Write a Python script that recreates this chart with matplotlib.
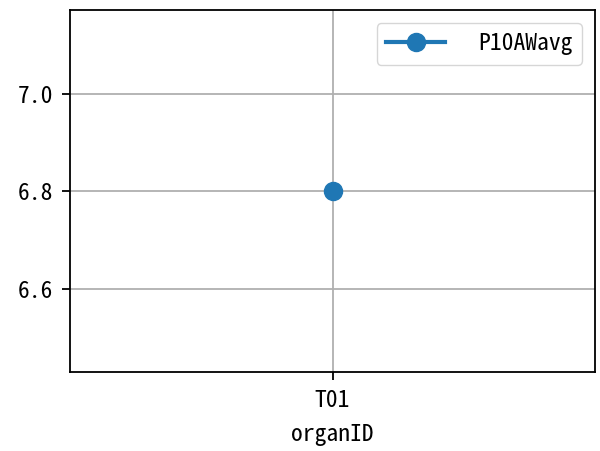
import matplotlib
matplotlib.use("Agg")
import matplotlib.pyplot as plt
from matplotlib.ticker import MultipleLocator

categories = ["T01"]
values = [6.8]
series_name = "P10AWavg"

plt.rcParams['font.family'] = ['Noto Sans Mono CJK SC', 'DejaVu Sans Mono']
plt.rcParams['font.size'] = 17

fig = plt.figure(figsize=(6.0, 4.51), dpi=100)
ax = fig.add_axes([70/600, 1-372/451, 525/600, 362/451])
ax.plot(categories, values, marker='o', markersize=13, linewidth=3, color='#1f77b4', label=series_name)
ax.yaxis.set_major_locator(MultipleLocator(0.2))
ax.set_ylim(6.43, 7.172)
ax.grid(True, linewidth=1.3)
for s in ax.spines.values():
    s.set_linewidth(1.3)
ax.tick_params(width=1.3, length=6, pad=6)
ax.set_xlabel("organID", labelpad=8)
ax.legend(loc='upper right', handletextpad=1.4, handlelength=2.5, borderpad=0.4, borderaxespad=0.55)
fig.savefig("out.png", dpi=100)
